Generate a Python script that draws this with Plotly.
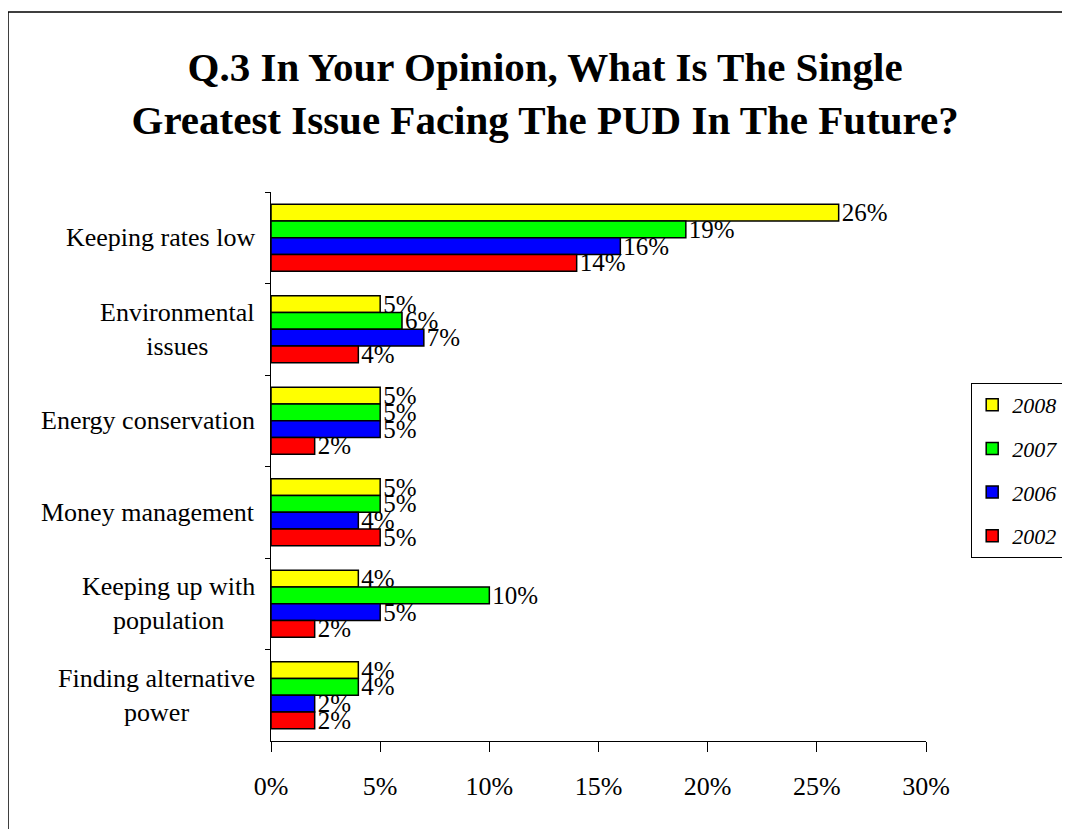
import plotly.graph_objects as go

# categories top to bottom
categories = ['Keeping rates low', 'Environmental<br>issues', 'Energy conservation',
              'Money management', 'Keeping up with<br>population',
              'Finding alternative<br>power']

years = ['2008', '2007', '2006', '2002']
colors = ['#FFFF00', '#00FF00', '#0000FF', '#FF0000']

# percent values per year, same order as categories
v2008 = [26, 5, 5, 5, 4, 4]
v2007 = [19, 6, 5, 5, 10, 4]
v2006 = [16, 7, 5, 4, 5, 2]
v2002 = [14, 4, 2, 5, 2, 2]
values = [v2008, v2007, v2006, v2002]

serif = 'Liberation Serif, Times New Roman, serif'

# plot area in figure pixels (page adds an 8px body offset)
L, R, T, B = 263, 152, 184, 96
PW, PH = 1070 - L - R, 829 - T - B

fig = go.Figure()
for yr, col, vals in zip(years, colors, values):
    fig.add_trace(go.Bar(
        y=categories, x=vals, name=yr, orientation='h', legendgroup=yr,
        marker=dict(color=col, line=dict(color='black', width=1.5)),
        text=[f'{v}%' for v in vals], textposition='outside',
        textfont=dict(family=serif, size=25, color='black'),
        constraintext='none', cliponaxis=False,
    ))

# category labels, multi-line ones centred on each other
for cat in categories:
    fig.add_annotation(
        x=0, xref='paper', y=cat, yref='y', text=cat, showarrow=False,
        xanchor='right', xshift=-14, align='center',
        font=dict(family=serif, size=26, color='black'),
    )

fig.update_layout(
    width=1070, height=829,
    margin=dict(l=L, r=R, t=T, b=B, autoexpand=False),
    paper_bgcolor='white', plot_bgcolor='white',
    barmode='group', bargap=0.27, bargroupgap=0,
    showlegend=True,
    title=dict(text='Q.3 In Your Opinion, What Is The Single<br>Greatest Issue Facing The PUD In The Future?',
               x=0.502, xanchor='center', y=0.912, yanchor='middle',
               font=dict(family=serif, size=41, color='black', weight='bold')),
    legend=dict(x=1.069, y=0.652, xanchor='left', yanchor='top',
                traceorder='grouped', tracegroupgap=12,
                bordercolor='black', borderwidth=1, bgcolor='white',
                font=dict(family=serif, size=22, color='black', style='italic')),
    xaxis=dict(range=[0, 30], dtick=5, ticksuffix='%', showgrid=False, zeroline=False,
               showline=True, linecolor='black', linewidth=1,
               ticks='outside', ticklen=10, tickcolor='black', ticklabelstandoff=12,
               tickfont=dict(family=serif, size=26, color='black')),
    yaxis=dict(autorange='reversed', showticklabels=False, showgrid=False,
               showline=True, linecolor='black', linewidth=1,
               ticks='outside', ticklen=5, tickcolor='black', tickson='boundaries'),
    shapes=[dict(type='rect', xref='paper', yref='paper',
                 x0=(0 - L) / PW, x1=(1090 - L) / PW,
                 y0=(PH + T - 850) / PH, y1=(PH + T - 4) / PH,
                 line=dict(color='black', width=1.5), layer='below')],
)

fig.write_html('out.html')
